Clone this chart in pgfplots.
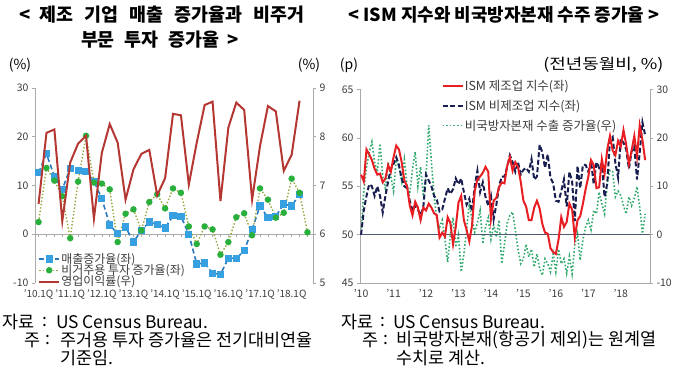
\documentclass[border=0pt]{standalone}
\usepackage{pgfplots}
\pgfplotsset{compat=1.18}
\usepackage{pgfplotstable}
\usepackage{graphicx}
\usepackage{fontspec}
\setmainfont{Noto Sans CJK KR}

\definecolor{axgray}{RGB}{170,170,170}
\definecolor{txt}{RGB}{60,60,60}
\definecolor{sblue}{RGB}{40,120,190}
\definecolor{sbluem}{RGB}{55,160,225}
\definecolor{sgreenl}{RGB}{150,165,60}
\definecolor{sgreenm}{RGB}{40,175,60}
\definecolor{sred}{RGB}{180,55,50}
\definecolor{ismred}{RGB}{232,30,35}
\definecolor{ismnavy}{RGB}{25,30,80}
\definecolor{ismgreen}{RGB}{50,170,110}
\definecolor{zeroln}{RGB}{80,90,110}

\pgfplotsset{/pgf/number format/assume math mode=true}

% ---------- left chart (quarterly, index 0 = 2010Q1) ----------
\pgfplotstableread{
q v
0 12.6
1 16.5
2 11.9
3 9.2
4 13.5
5 13.1
6 12.8
7 10.9
8 7.3
9 1.9
10 0.1
11 1.5
12 -1.6
13 0.8
14 2.5
15 2.0
16 1.3
17 3.8
18 3.7
19 0.0
20 -6.1
21 -5.9
22 -8.0
23 -8.2
24 -4.9
25 -4.9
26 -3.4
27 1.0
28 5.8
29 3.4
30 3.7
31 6.2
32 5.8
33 8.2
}\sales

\pgfplotstableread{
q v
0 2.5
1 13.6
2 11.0
3 7.8
4 -0.8
5 10.8
6 20.2
7 10.6
8 10.4
9 9.2
10 -1.6
11 4.2
12 5.1
13 0.8
14 6.6
15 8.2
16 5.3
17 9.4
18 8.5
19 1.6
20 -2.0
21 1.6
22 1.0
23 -4.2
24 -1.6
25 3.5
26 4.3
27 -0.2
28 9.4
29 7.1
30 3.4
31 4.4
32 11.4
33 8.5
34 0.4
}\invest

\pgfplotstableread{
q v
0 6.62
1 8.08
2 8.15
3 6.27
4 7.47
5 7.86
6 8.02
7 6.32
8 7.67
9 8.26
10 7.88
11 6.71
12 7.33
13 7.65
14 7.73
15 6.80
16 7.15
17 8.47
18 8.44
19 7.02
20 7.88
21 8.65
22 8.72
23 6.68
24 8.19
25 8.70
26 8.55
27 6.71
28 7.81
29 8.63
30 8.52
31 7.30
32 7.63
33 8.74
}\margin

% ---------- right chart (monthly, index 0 = Jan 2010) ----------
\pgfplotstableread{
m mfg nmi ord
0 56.2 50.0 0.5
1 55.5 52.5 9
2 58.8 54.0 14
3 58.3 55.2 17
4 57.7 55.0 19.2
5 56.8 54.0 15
6 56.2 55.0 13
7 56.3 54.0 18.8
8 55.4 52.3 12
9 55.8 54.0 9.5
10 57.2 55.5 15
11 56.5 56.8 12
12 58.0 57.3 9
13 59.2 58.0 15.5
14 58.8 57.2 14
15 57.5 55.8 11
16 55.6 55.0 15.5
17 55.0 54.8 10
18 53.0 53.5 8.5
19 52.0 52.5 13.5
20 53.4 53.0 17.1
21 52.8 52.6 10
22 51.5 52.0 14
23 52.8 52.8 8
24 52.5 56.2 12
25 53.2 55.6 22.6
26 52.8 55.0 15
27 52.2 54.0 8
28 52.0 53.6 3
29 49.7 52.4 1.5
30 50.2 52.6 3
31 49.8 53.7 -1
32 51.8 54.8 -5.7
33 51.2 54.2 0
34 49.0 54.7 3.5
35 50.8 55.8 -2.6
36 53.3 55.2 0
37 54.0 55.8 -7.7
38 51.5 54.4 -4
39 50.5 53.1 1
40 49.3 53.7 6.5
41 50.9 52.4 3
42 54.5 55.0 0.5
43 55.7 56.6 2.5
44 56.0 54.4 5
45 56.4 55.4 -1.9
46 57.0 53.9 1.6
47 56.5 53.0 3.5
48 51.6 54.0 -1
49 53.5 51.6 2
50 53.8 53.1 -0.5
51 54.9 55.0 3
52 55.4 56.0 -6
53 55.3 56.0 -2
54 57.1 57.0 2.3
55 58.0 58.2 4
56 56.6 57.5 4.7
57 57.5 56.5 1
58 57.0 57.5 -3
59 55.5 56.2 -6
60 53.5 56.7 -5
61 52.9 56.9 -2
62 51.5 56.5 -4.6
63 51.5 57.8 -3
64 52.8 55.7 -6.7
65 53.5 56.0 -4
66 52.7 59.3 -7
67 51.1 58.5 -8.4
68 50.2 56.9 -5
69 50.1 58.3 -6
70 48.6 55.9 -7.7
71 48.2 55.3 -4
72 48.0 53.5 -7.7
73 49.5 53.4 -3
74 51.8 54.5 -6
75 50.8 55.7 -5
76 51.3 52.9 -8
77 53.2 56.5 -4.5
78 52.6 55.5 -8.1
79 49.7 51.4 -2
80 51.5 57.1 0.2
81 51.9 54.8 -5.3
82 53.2 57.2 -1
83 54.7 57.2 1.6
84 56.0 56.5 3
85 57.7 57.6 1
86 57.2 55.2 5
87 54.8 57.5 4.3
88 54.9 56.9 8.8
89 57.8 57.4 6.4
90 56.3 53.9 4.3
91 58.8 55.3 10.6
92 60.2 59.8 13.3
93 58.7 60.1 13
94 58.2 57.4 7.8
95 59.7 55.9 9
96 59.1 59.9 8.1
97 60.8 59.5 6
98 59.3 58.8 4.3
99 57.3 56.8 7.8
100 58.7 58.6 6
101 60.2 59.1 7.5
102 58.1 55.7 9.9
103 61.3 58.5 5.7
104 59.8 61.6 0.2
105 57.7 60.3 4.3
}\ism

\begin{document}
\begin{tikzpicture}
\useasboundingbox (0,0) rectangle (680bp,371bp);

% ======== LEFT CHART ========
\begin{axis}[
  at={(35bp,88bp)}, anchor=south west, scale only axis,
  width=278bp, height=195bp,
  xmin=-0.45, xmax=34.7, ymin=-10, ymax=30,
  axis x line=middle, axis y line*=left,
  axis line style={draw=axgray,-},
  xtick={0,...,34}, xticklabels={},
  ytick={-10,0,10,20,30},
  tick style={draw=axgray, line width=0.5bp},
  tick align=outside, major tick length=3bp,
  yticklabel style={font=\fontsize{10.5}{11}\selectfont, text=txt},
]
\addplot[sblue, line width=1.6bp, dash pattern=on 5bp off 3bp, mark=square*, mark size=2.8bp,
  mark options={solid, fill=sbluem, draw=sbluem}] table[x=q,y=v]{\sales};
\addplot[sgreenl, line width=1.4bp, dotted, mark=*, mark size=2.5bp,
  mark options={solid, fill=sgreenm, draw=sgreenm}] table[x=q,y=v]{\invest};
\end{axis}

\begin{axis}[
  at={(35bp,88bp)}, anchor=south west, scale only axis,
  width=278bp, height=195bp,
  xmin=-0.45, xmax=34.7, ymin=5, ymax=9,
  axis y line*=right, axis x line*=bottom,
  x axis line style={draw=none}, y axis line style={draw=axgray,-},
  xtick={0,4,...,32},
  xticklabels={'10.1Q,'11.1Q,'12.1Q,'13.1Q,'14.1Q,'15.1Q,'16.1Q,'17.1Q,'18.1Q},
  xtick style={draw=none},
  ytick={5,6,7,8,9},
  ytick style={draw=axgray, line width=0.5bp},
  tick align=outside, major tick length=3bp,
  yticklabel style={font=\fontsize{10.5}{11}\selectfont, text=txt},
  xticklabel style={font=\fontsize{10}{10}\selectfont, text=txt, inner xsep=0pt},
  legend style={draw=none, fill=none, at={(0.0,0.17)}, anchor=north west,
    font=\fontsize{12}{13}\selectfont, text=txt, row sep=-2.5bp,
    nodes={inner sep=1.2bp}},
  legend cell align=left,
  legend image code/.code={\draw[mark repeat=2,mark phase=2,#1] plot coordinates {(0bp,0bp) (10bp,0bp) (20bp,0bp)};},
]
\addlegendimage{sblue, line width=1.6bp, dash pattern=on 5bp off 3bp, mark=square*, mark size=2.8bp,
  mark options={solid, fill=sbluem, draw=sbluem}}
\addlegendentry{매출증가율(좌)}
\addlegendimage{sgreenl, line width=1.4bp, dotted, mark=*, mark size=2.5bp,
  mark options={solid, fill=sgreenm, draw=sgreenm}}
\addlegendentry{비거주용 투자 증가율(좌)}
\addplot[sred, line width=2bp] table[x=q,y=v]{\margin};
\addlegendentry{영업이익률(우)}
\end{axis}

% ======== RIGHT CHART ========
\begin{axis}[
  at={(360bp,88bp)}, anchor=south west, scale only axis,
  width=290bp, height=193.5bp,
  xmin=-0.4, xmax=106.8, ymin=-10, ymax=30,
  axis y line*=right, axis x line=none,
  y axis line style={draw=axgray,-},
  ytick={-10,0,10,20,30},
  ytick style={draw=axgray, line width=0.5bp},
  tick align=outside, major tick length=3bp,
  yticklabel style={font=\fontsize{10.5}{11}\selectfont, text=txt},
]
\addplot[ismgreen, line width=1.6bp, dotted] table[x=m,y=ord]{\ism};
\end{axis}

\begin{axis}[
  at={(360bp,88bp)}, anchor=south west, scale only axis,
  width=290bp, height=193.5bp,
  xmin=-0.4, xmax=106.8, ymin=45, ymax=65,
  axis y line*=left, axis x line*=bottom,
  axis line style={draw=axgray,-},
  xtick={0,12,...,96},
  xticklabels={'10,'11,'12,'13,'14,'15,'16,'17,'18},
  xtick style={draw=none},
  ytick={45,50,...,65},
  ytick style={draw=axgray, line width=0.5bp},
  extra y ticks={50}, extra y tick labels={},
  extra y tick style={grid=major, major grid style={draw=zeroln, line width=1bp}, tick style={draw=none}},
  tick align=outside, major tick length=3bp,
  yticklabel style={font=\fontsize{10.5}{11}\selectfont, text=txt},
  xticklabel style={font=\fontsize{10.5}{11}\selectfont, text=txt},
  legend style={draw=none, fill=none, at={(0.27,1.065)}, anchor=north west,
    font=\fontsize{12.5}{13}\selectfont, text=txt, row sep=5.5bp,
    nodes={inner sep=1.2bp}},
  legend cell align=left,
  legend image code/.code={\draw[#1] (0bp,0bp) -- (20bp,0bp);},
]
\addplot[ismnavy, line width=2bp, dash pattern=on 5bp off 2.5bp, forget plot] table[x=m,y=nmi]{\ism};
\addplot[ismred, line width=2bp, forget plot] table[x=m,y=mfg]{\ism};
\addlegendimage{ismred, line width=2.2bp}
\addlegendentry{ISM 제조업 지수(좌)}
\addlegendimage{ismnavy, line width=2.2bp, dash pattern=on 5bp off 2.5bp}
\addlegendentry{ISM 비제조업 지수(좌)}
\addlegendimage{ismgreen, line width=1.6bp, dotted}
\addlegendentry{비국방자본재 수출 증가율(우)}
\end{axis}

% ======== TEXT ========
\node[font=\fontsize{18.5}{18.5}\selectfont\bfseries, text=black] at (162bp,356bp) {<\hspace{9bp}제조\hspace{11bp}기업\hspace{11bp}매출\hspace{11bp}증가율과\hspace{11bp}비주거};
\node[font=\fontsize{18.5}{18.5}\selectfont\bfseries, text=black] at (160bp,331bp) {부문\hspace{10bp}투자\hspace{10bp}증가율\hspace{8bp}>};
\node[font=\fontsize{18}{18}\selectfont\bfseries, text=black] at (504bp,356bp) {< ISM 지수와 비국방자본재 수주 증가율 >};

\node[font=\fontsize{14}{14}\selectfont, text=black] at (20bp,306bp) {(\%)};
\node[font=\fontsize{14}{14}\selectfont, text=black] at (309bp,306bp) {(\%)};
\node[font=\fontsize{14}{14}\selectfont, text=black] at (349bp,306bp) {(p)};
\node[font=\fontsize{15}{15}\selectfont, text=black, anchor=east] at (667bp,306bp) {\scalebox{1.2}[1]{(전년동월비, \%)}};

\begin{scope}[every node/.style={font=\fontsize{17.5}{18}\selectfont, text=black, inner sep=0pt}]
\node[anchor=west] at (2bp,49bp) {자료};
\node at (45bp,49bp) {:};
\node[anchor=west] at (56bp,49bp) {US Census Bureau.};
\node[anchor=west] at (24bp,31bp) {주};
\node at (48bp,31bp) {:};
\node[anchor=west] at (60bp,31bp) {주거용 투자 증가율은 전기대비연율};
\node[anchor=west] at (60bp,13bp) {기준임.};

\node[anchor=west] at (341bp,49bp) {자료};
\node at (383bp,49bp) {:};
\node[anchor=west] at (393bp,49bp) {US Census Bureau.};
\node[anchor=west] at (362bp,31bp) {주};
\node at (386bp,31bp) {:};
\node[anchor=west] at (396bp,31bp) {비국방자본재(항공기 제외)는 원계열};
\node[anchor=west] at (396bp,13bp) {수치로 계산.};
\end{scope}
\end{tikzpicture}
\end{document}
